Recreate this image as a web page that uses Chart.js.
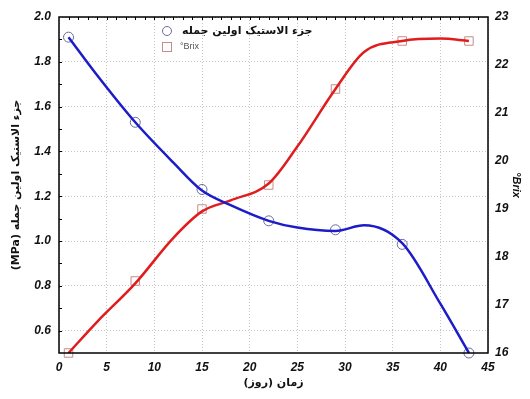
<!DOCTYPE html>
<html>
<head>
<meta charset="utf-8">
<script src="https://cdn.jsdelivr.net/npm/chart.js@4.4.1/dist/chart.umd.min.js"></script>
<style>
  html, body { margin: 0; padding: 0; background: #fff; }
  #wrap { width: 530px; height: 399px; }
</style>
</head>
<body>
<div id="wrap"><canvas id="c" width="530" height="399"></canvas></div>
<script>
// ── Data ────────────────────────────────────────────────────
const days      = [1, 8, 15, 22, 29, 36, 43];
const modulus   = [1.91, 1.53, 1.23, 1.09, 1.05, 0.985, 0.50];   // MPa, left axis
const brix      = [16.0, 17.5, 19.0, 19.5, 21.5, 22.5, 22.5];    // °Brix, right axis

// smoothed curves as they appear in the picture
const fitDays    = [1, 4, 8, 12, 15, 18, 22, 25, 29, 32, 36, 40, 43];
const modulusFit = [1.91, 1.74, 1.53, 1.35, 1.225, 1.16, 1.09, 1.06, 1.045, 1.07, 0.99, 0.72, 0.50];
const brixFit    = [16.0, 16.65, 17.45, 18.4, 18.95, 19.18, 19.53, 20.3, 21.5, 22.27, 22.5, 22.55, 22.5];

const xTicks     = [0, 5, 10, 15, 20, 25, 30, 35, 40, 45];
const leftTicks  = [0.6, 0.8, 1.0, 1.2, 1.4, 1.6, 1.8, 2.0];
const rightTicks = [16, 17, 18, 19, 20, 21, 22, 23];
const topMinorStep  = 1;    // small inward ticks on the top frame
const leftMinorStep = 0.1;  // small inward ticks on the left frame

const modulusLabel = 'جزء الاستیک اولین جمله';
const brixLabel    = '°Brix';
const yTitle       = 'جزء الاستیک اولین جمله (MPa)';
const xTitle       = 'زمان (روز)';

// ── Styles ───────────────────────────────────────────────────
const BLUE  = '#1c1cc8';
const RED   = '#e01c1c';
const TICK_FONT = { family: "'Liberation Sans', Arial, sans-serif", size: 12, weight: 'bold', style: 'italic' };
const GRID  = { color: '#c4c4c4', lineWidth: 1, drawTicks: false };
const rtl   = s => '\u202B' + s + '\u202C';

const pts = (xs, ys) => xs.map((x, i) => ({ x, y: ys[i] }));

// frame, minor ticks and in-plot legend
const framePlugin = {
  id: 'frame',
  afterDraw(chart) {
    const { ctx, chartArea: a, scales } = chart;
    ctx.save();
    ctx.strokeStyle = '#000';
    ctx.lineWidth = 1.5;
    ctx.strokeRect(a.left, a.top, a.right - a.left, a.bottom - a.top);

    // minor ticks
    ctx.lineWidth = 1;
    ctx.beginPath();
    for (let v = scales.x.min + topMinorStep; v < scales.x.max; v += topMinorStep) {
      const px = Math.round(scales.x.getPixelForValue(v)) + 0.5;
      ctx.moveTo(px, a.top);
      ctx.lineTo(px, a.top + 3);
    }
    for (let v = scales.y.min + leftMinorStep; v < scales.y.max - 1e-6; v += leftMinorStep) {
      const py = Math.round(scales.y.getPixelForValue(v)) + 0.5;
      ctx.moveTo(a.left, py);
      ctx.lineTo(a.left + 3, py);
    }
    ctx.stroke();

    // legend
    ctx.strokeStyle = '#6a6aa0';
    ctx.beginPath();
    ctx.arc(167, 31, 4.5, 0, Math.PI * 2);
    ctx.stroke();
    ctx.strokeStyle = '#c88a8a';
    ctx.strokeRect(162.5, 42.5, 9, 9);

    ctx.textBaseline = 'middle';
    ctx.textAlign = 'left';
    ctx.fillStyle = '#111';
    ctx.font = "bold 11px 'DejaVu Sans', sans-serif";
    ctx.fillText(rtl(modulusLabel), 182, 31);
    ctx.fillStyle = '#555';
    ctx.font = "9px 'Liberation Sans', Arial, sans-serif";
    ctx.fillText(brixLabel, 180, 47);
    ctx.restore();
  }
};

new Chart(document.getElementById('c'), {
  type: 'scatter',
  data: {
    datasets: [
      {
        label: modulusLabel + ' fit',
        data: pts(fitDays, modulusFit),
        yAxisID: 'y',
        showLine: true,
        cubicInterpolationMode: 'monotone',
        borderColor: BLUE,
        borderWidth: 2.5,
        pointRadius: 0,
      },
      {
        label: brixLabel + ' fit',
        data: pts(fitDays, brixFit),
        yAxisID: 'y2',
        showLine: true,
        cubicInterpolationMode: 'monotone',
        borderColor: RED,
        borderWidth: 2.5,
        pointRadius: 0,
      },
      {
        label: modulusLabel,
        data: pts(days, modulus),
        yAxisID: 'y',
        pointStyle: 'circle',
        pointRadius: 5,
        borderColor: '#6a6aa0',
        backgroundColor: 'transparent',
        borderWidth: 1,
        clip: false,
      },
      {
        label: brixLabel,
        data: pts(days, brix),
        yAxisID: 'y2',
        pointStyle: 'rect',
        pointRadius: 6,
        borderColor: '#c88a8a',
        backgroundColor: 'transparent',
        borderWidth: 1,
        clip: false,
      },
    ],
  },
  options: {
    responsive: false,
    animation: false,
    layout: { padding: { top: 17, right: 0, left: 0, bottom: 0 } },
    plugins: { legend: { display: false }, tooltip: { enabled: false } },
    scales: {
      x: {
        type: 'linear',
        min: 0, max: 45,
        afterBuildTicks: s => { s.ticks = xTicks.map(v => ({ value: v })); },
        afterFit: s => { s.height = 46; },
        grid: { ...GRID },
        border: { display: false, dash: [1, 2] },
        ticks: { font: TICK_FONT, color: '#111', padding: 7, maxRotation: 0 },
        title: {
          display: true, text: rtl(xTitle), color: '#111',
          font: { family: "'DejaVu Sans', sans-serif", size: 11, weight: 'bold' },
          padding: { top: 0, bottom: 9 },
        },
      },
      y: {
        position: 'left',
        min: 0.5, max: 2.0,
        afterBuildTicks: s => { s.ticks = leftTicks.map(v => ({ value: v })); },
        afterFit: s => { s.width = 59; },
        grid: { ...GRID },
        border: { display: false, dash: [1, 2] },
        ticks: { font: TICK_FONT, color: '#111', padding: 8, callback: v => v.toFixed(1) },
        title: {
          display: true, text: rtl(yTitle), color: '#111',
          font: { family: "'DejaVu Sans', sans-serif", size: 11, weight: 'bold' },
          padding: { top: 10, bottom: 0 },
        },
      },
      y2: {
        position: 'right',
        min: 16, max: 23,
        afterBuildTicks: s => { s.ticks = rightTicks.map(v => ({ value: v })); },
        afterFit: s => { s.width = 42; },
        grid: { display: false, drawTicks: false },
        border: { display: false },
        ticks: { font: TICK_FONT, color: '#111', padding: 7 },
        title: {
          display: true, text: brixLabel, color: '#111',
          font: { family: "'Liberation Sans', Arial, sans-serif", size: 11, weight: 'bold', style: 'italic' },
          padding: { top: 7, bottom: 0 },
        },
      },
    },
  },
  plugins: [framePlugin],
});
</script>
</body>
</html>
